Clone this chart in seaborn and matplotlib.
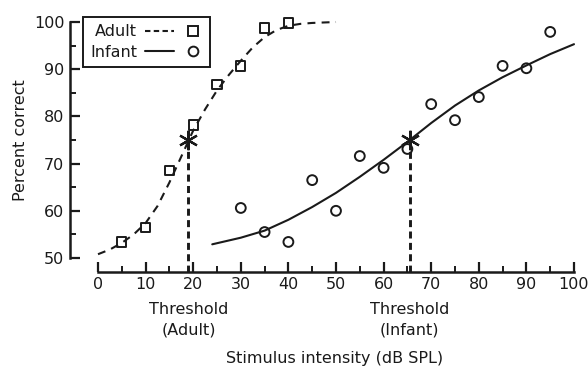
import matplotlib
matplotlib.use("Agg")
import matplotlib.pyplot as plt
import matplotlib.transforms as mtrans
from matplotlib.lines import Line2D
from matplotlib.legend_handler import HandlerBase
from matplotlib.ticker import MultipleLocator
import numpy as np
import pandas as pd
import seaborn as sns

# ---------------- data ----------------
adult_x = [5, 10, 15, 20, 25, 30, 35, 40]
adult_y = [53.4, 56.4, 68.6, 78.2, 86.7, 90.7, 98.7, 99.8]

infant_x = [30, 35, 40, 45, 50, 55, 60, 65, 70, 75, 80, 85, 90, 95]
infant_y = [60.6, 55.5, 53.4, 66.5, 60.0, 71.6, 69.1, 73.1, 82.6, 79.2, 84.1, 90.7, 90.2, 97.9]

# fitted curves
adult_fit_x = [0, 2.5, 5, 7.5, 10, 12.5, 15, 17.5, 20, 22.5, 25, 27.5, 30,
               32.5, 35, 37.5, 40, 42.5, 45, 50]
adult_fit_y = [50.8, 51.8, 53.2, 55.0, 57.4, 61.0, 66.0, 71.5, 77.0, 81.5,
               85.5, 88.8, 91.8, 94.6, 96.8, 98.3, 99.2, 99.6, 99.8, 100.0]

infant_fit_x = [24, 30, 35, 40, 45, 50, 55, 60, 65, 70, 75, 80, 85, 90, 95, 100]
infant_fit_y = [52.9, 54.3, 55.8, 58.1, 60.8, 63.8, 67.2, 70.8, 74.6, 78.6,
                82.3, 85.5, 88.3, 90.8, 93.2, 95.3]

thresholds_x = [19, 65.5]
thresholds_y = [75, 75]
threshold_labels = ["Threshold\n(Adult)", "Threshold\n(Infant)"]

x_ticks = [0, 10, 20, 30, 40, 50, 60, 70, 80, 90, 100]
y_ticks = [50, 60, 70, 80, 90, 100]

# ---------------- style ----------------
sns.set_style("ticks")
plt.rcParams["font.family"] = ["DejaVu Sans"]
FS = 11.5
INK = "#1a1a1a"

W, H = 588, 368
fig = plt.figure(figsize=(W / 100, H / 100), dpi=100)
ax = fig.add_axes([98 / W, 1 - 258 / H, 476 / W, 236 / H])
ax.set_xlim(0, 100)
ax.set_ylim(50, 100)

adult_pts = pd.DataFrame({"x": adult_x, "y": adult_y})
infant_pts = pd.DataFrame({"x": infant_x, "y": infant_y})
adult_fit = pd.DataFrame({"x": adult_fit_x, "y": adult_fit_y})
infant_fit = pd.DataFrame({"x": infant_fit_x, "y": infant_fit_y})

sns.lineplot(data=adult_fit, x="x", y="y", ax=ax, color=INK, lw=1.5,
             sort=False, clip_on=False)
adult_line = ax.get_lines()[0]
adult_line.set_linestyle((0, (3.8, 3.0)))
sns.lineplot(data=infant_fit, x="x", y="y", ax=ax, color=INK, lw=1.5,
             sort=False, clip_on=False)

sns.scatterplot(data=adult_pts, x="x", y="y", ax=ax, marker="s", s=45,
                color="none", edgecolor=INK, linewidth=1.4, clip_on=False, zorder=4)
sns.scatterplot(data=infant_pts, x="x", y="y", ax=ax, marker="o", s=50,
                color="none", edgecolor=INK, linewidth=1.4, clip_on=False, zorder=4)
for coll in ax.collections:
    coll.set_facecolor("none")
    coll.set_edgecolor(INK)

# threshold drop lines and asterisks
for tx, ty in zip(thresholds_x, thresholds_y):
    ax.plot([tx, tx], [ty, 47.0], color=INK, lw=2.1, dashes=(2.4, 1.5),
            clip_on=False, zorder=3)
ax.plot(thresholds_x, thresholds_y, linestyle="none", marker=(6, 2, 0),
        ms=14, mew=1.6, color=INK, clip_on=False, zorder=5)

# threshold labels under the axis
blend = mtrans.blended_transform_factory(ax.transData, fig.transFigure)
for tx, lab in zip(thresholds_x, threshold_labels):
    top, bottom = lab.split("\n")
    ax.text(tx, 1 - 309 / H, top, transform=blend, ha="center", va="center",
            fontsize=FS, color=INK)
    ax.text(tx, 1 - 330 / H, bottom, transform=blend, ha="center", va="center",
            fontsize=FS, color=INK)

# axes / spines
for s in ["top", "right"]:
    ax.spines[s].set_visible(False)
ax.spines["left"].set_position(("outward", 20.2))
ax.spines["bottom"].set_position(("outward", 10.0))
ax.spines["left"].set_bounds(50, 100)
ax.spines["bottom"].set_bounds(0, 100)
for s in ["left", "bottom"]:
    ax.spines[s].set_linewidth(1.8)
    ax.spines[s].set_color(INK)

ax.set_xticks(x_ticks)
ax.set_yticks(y_ticks)
ax.xaxis.set_minor_locator(MultipleLocator(5))
ax.yaxis.set_minor_locator(MultipleLocator(5))
ax.tick_params(axis="both", which="major", direction="in", length=7.5, width=1.6,
               colors=INK, labelsize=FS, pad=4)
ax.tick_params(axis="both", which="minor", direction="in", length=4, width=1.4,
               colors=INK)
ax.set_xlabel("")
ax.set_ylabel("")

fig.text(335 / W, 1 - 358 / H, "Stimulus intensity (dB SPL)", ha="center",
         va="center", fontsize=FS, color=INK)
fig.text(21 / W, 1 - 140 / H, "Percent correct", ha="center", va="center",
         rotation=90, fontsize=FS, color=INK)


# legend: label, then line, then marker at the right end
class LineThenMarker(HandlerBase):
    def create_artists(self, legend, orig_handle, xdescent, ydescent, width,
                       height, fontsize, trans):
        y = height / 2 - ydescent
        x0 = -xdescent
        line = Line2D([x0, x0 + width * 0.5], [y, y], color=INK, lw=1.5)
        if orig_handle.get_linestyle() not in ("-", "solid"):
            line.set_dashes((2.6, 1.6))
        mk = Line2D([x0 + width * 0.84], [y], linestyle="none",
                    marker=orig_handle.get_marker(), ms=7, mew=1.4,
                    mfc="none", mec=INK)
        line.set_transform(trans)
        mk.set_transform(trans)
        return [line, mk]


h_adult = Line2D([], [], linestyle="--", marker="s")
h_infant = Line2D([], [], linestyle="-", marker="o")
leg = ax.legend([h_adult, h_infant], ["Adult", "Infant"],
                handler_map={Line2D: LineThenMarker()},
                loc="upper left", bbox_to_anchor=(83 / W, 1 - 17 / H),
                bbox_transform=fig.transFigure, markerfirst=False,
                fontsize=FS, frameon=True, fancybox=False, framealpha=1,
                edgecolor=INK, handlelength=3.6, handletextpad=0.5,
                labelspacing=0.35, borderpad=0.45, borderaxespad=0)
leg.get_frame().set_linewidth(1.4)
for t in leg.get_texts():
    t.set_color(INK)

fig.savefig("out.png", dpi=100, facecolor="white")
